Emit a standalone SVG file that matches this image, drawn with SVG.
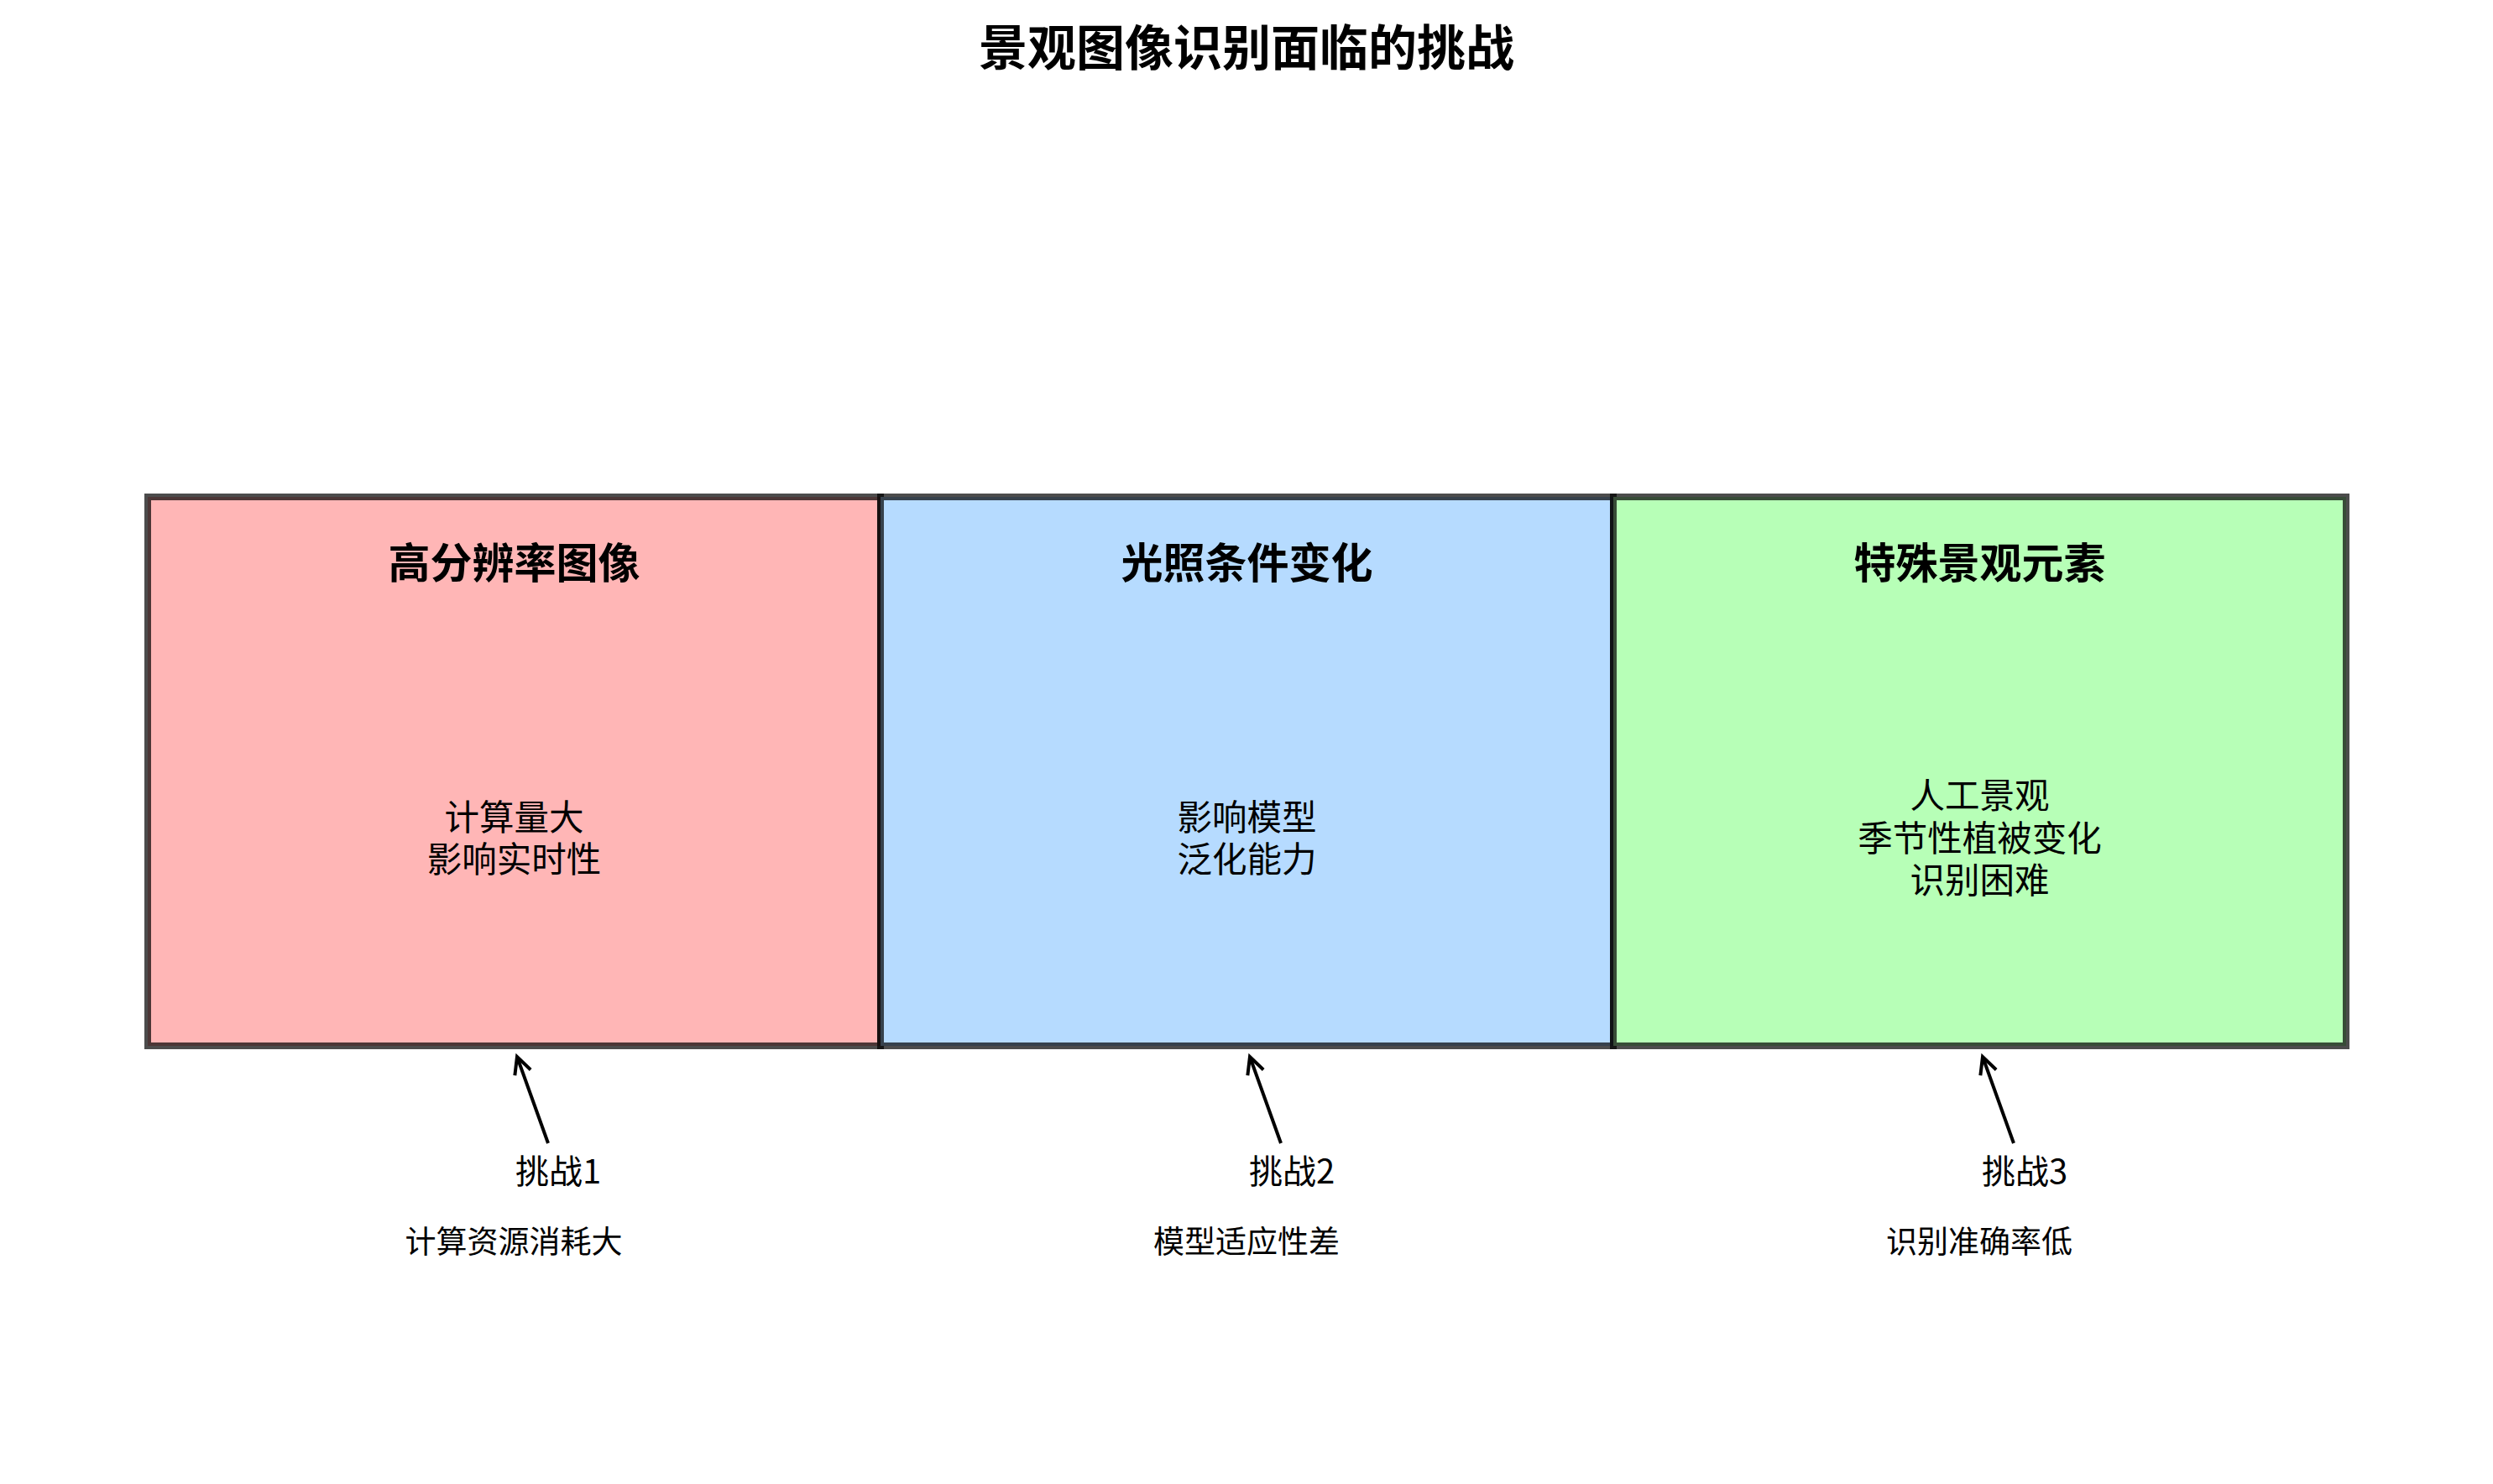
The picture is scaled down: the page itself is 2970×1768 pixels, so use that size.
<svg xmlns="http://www.w3.org/2000/svg" width="2970" height="1768" viewBox="0 0 2970 1768">
<style>
text{font-family:"Noto Sans CJK SC","Noto Sans",sans-serif;fill:#000;text-anchor:middle;dominant-baseline:central}
.title{font-size:58px;font-weight:bold}
.head{font-size:50px;font-weight:bold}
.body{font-size:41.5px}
.lab{font-size:40px}
.sub{font-size:37px}
.box{stroke:#000;stroke-opacity:0.7;stroke-width:8}
.arrow{stroke:#000;stroke-width:4;fill:none}
</style>
<defs>
<marker id="ah" markerUnits="userSpaceOnUse" markerWidth="40" markerHeight="40" viewBox="-30 -20 40 40" refX="0" refY="0" orient="auto" overflow="visible">
<path d="M-20,-10 L0,0 L-20,10" fill="none" stroke="#000" stroke-width="4"/>
</marker>
</defs>
<rect width="2970" height="1768" fill="#fff"/>
<text class="title" x="1485" y="53">景观图像识别面临的挑战</text>
<g id="node1">
<rect class="box" x="176" y="592" width="873" height="654" fill="#FFB6B6"/>
<text class="head" x="612.5" y="667">高分辨率图像</text>
<text class="body"><tspan x="612.5" y="971">计算量大</tspan><tspan x="612.5" y="1021">影响实时性</tspan></text>
</g>
<g id="node2">
<rect class="box" x="1049" y="592" width="873" height="654" fill="#B6DBFF"/>
<text class="head" x="1485.5" y="667">光照条件变化</text>
<text class="body"><tspan x="1485.5" y="971">影响模型</tspan><tspan x="1485.5" y="1021">泛化能力</tspan></text>
</g>
<g id="node3">
<rect class="box" x="1922" y="592" width="873" height="654" fill="#B7FFB7"/>
<text class="head" x="2358.5" y="667">特殊景观元素</text>
<text class="body"><tspan x="2358.5" y="945">人工景观</tspan><tspan x="2358.5" y="996">季节性植被变化</tspan><tspan x="2358.5" y="1046">识别困难</tspan></text>
</g>
<g id="labels">
<text class="lab" x="665" y="1393">挑战1</text>
<text class="sub" x="612" y="1477">计算资源消耗大</text>
<text class="lab" x="1539" y="1393">挑战2</text>
<text class="sub" x="1485" y="1477">模型适应性差</text>
<text class="lab" x="2412" y="1393">挑战3</text>
<text class="sub" x="2358" y="1477">识别准确率低</text>
</g>
<g id="connectors">
<line class="arrow" x1="653" y1="1362" x2="616" y2="1259" marker-end="url(#ah)"/>
<line class="arrow" x1="1526" y1="1362" x2="1489" y2="1259" marker-end="url(#ah)"/>
<line class="arrow" x1="2399" y1="1362" x2="2362" y2="1259" marker-end="url(#ah)"/>
</g>
</svg>
